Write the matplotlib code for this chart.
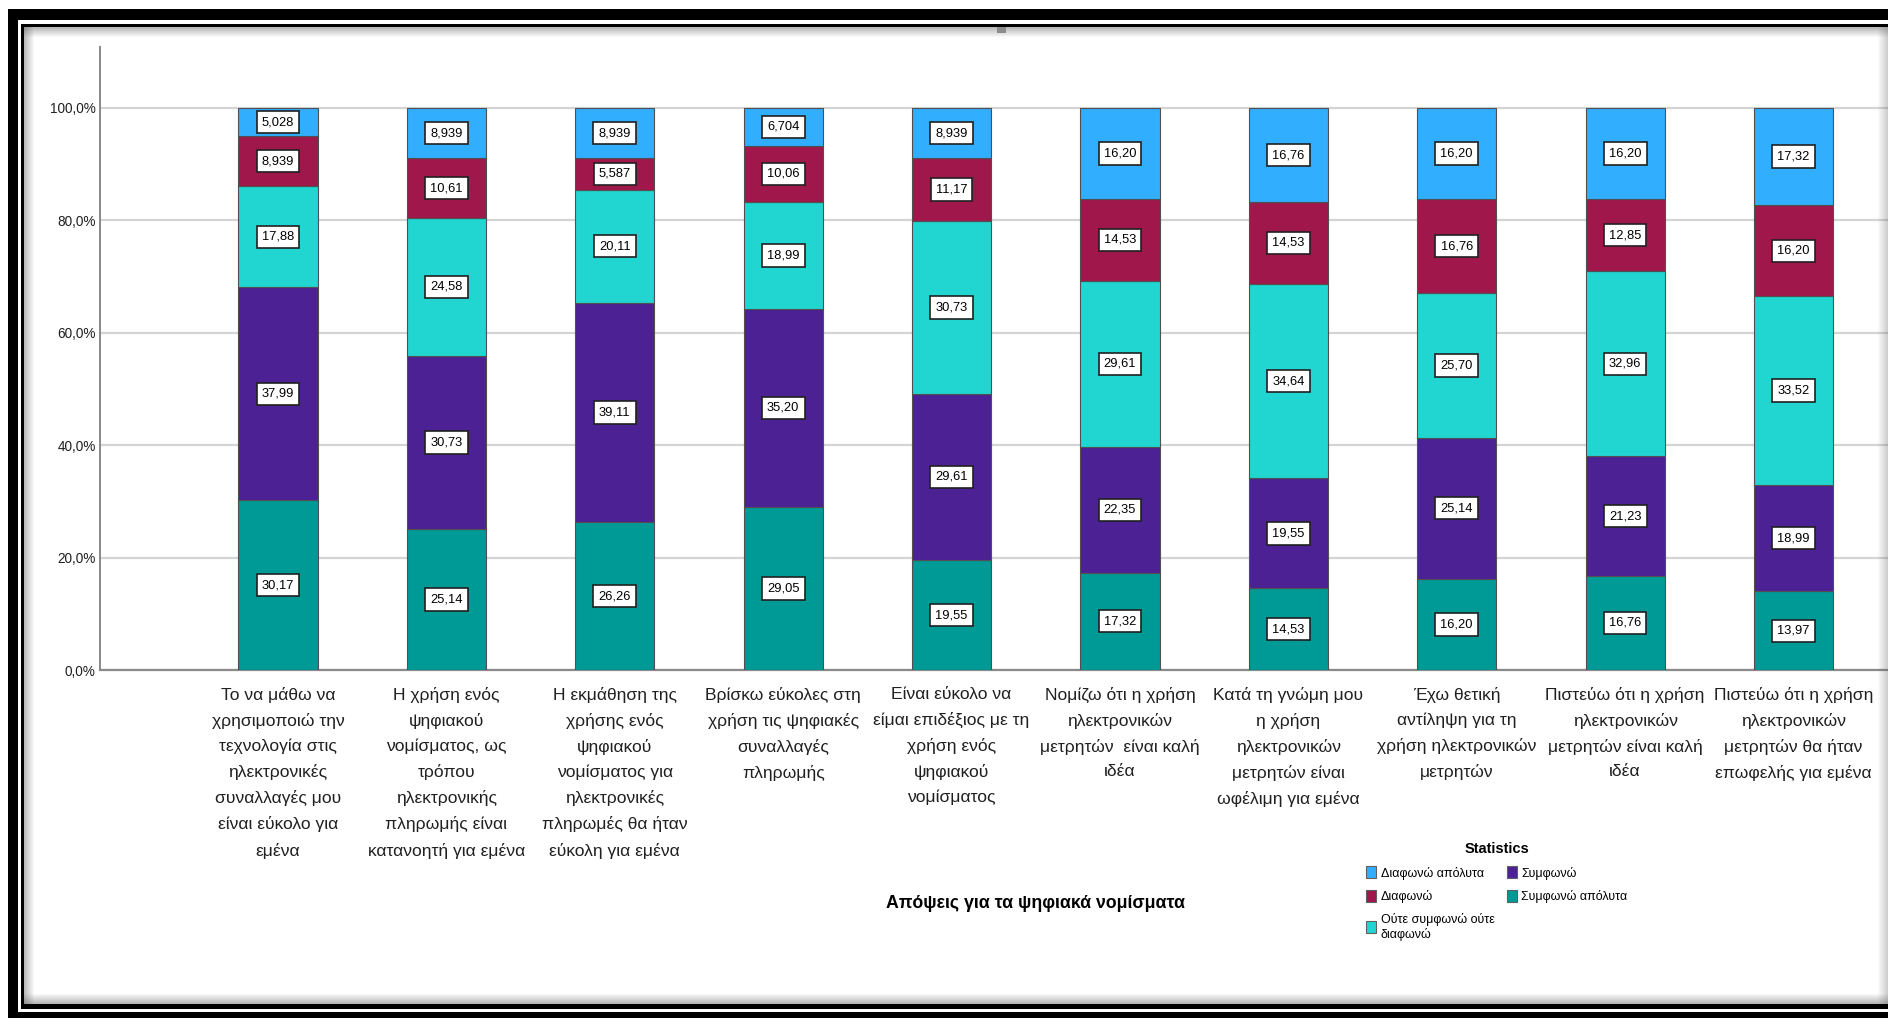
import matplotlib
matplotlib.use("Agg")
import matplotlib.pyplot as plt
from matplotlib.patches import Rectangle, Patch

plt.rcParams["font.family"] = ["Liberation Sans", "DejaVu Sans"]

categories = [
    "Το να μάθω να\nχρησιμοποιώ την\nτεχνολογία στις\nηλεκτρονικές\nσυναλλαγές μου\nείναι εύκολο για\nεμένα",
    "Η χρήση ενός\nψηφιακού\nνομίσματος, ως\nτρόπου\nηλεκτρονικής\nπληρωμής είναι\nκατανοητή για εμένα",
    "Η εκμάθηση της\nχρήσης ενός\nψηφιακού\nνομίσματος για\nηλεκτρονικές\nπληρωμές θα ήταν\nεύκολη για εμένα",
    "Βρίσκω εύκολες στη\nχρήση τις ψηφιακές\nσυναλλαγές\nπληρωμής",
    "Είναι εύκολο να\nείμαι επιδέξιος με τη\nχρήση ενός\nψηφιακού\nνομίσματος",
    "Νομίζω ότι η χρήση\nηλεκτρονικών\nμετρητών  είναι καλή\nιδέα",
    "Κατά τη γνώμη μου\nη χρήση\nηλεκτρονικών\nμετρητών είναι\nωφέλιμη για εμένα",
    "Έχω θετική\nαντίληψη για τη\nχρήση ηλεκτρονικών\nμετρητών",
    "Πιστεύω ότι η χρήση\nηλεκτρονικών\nμετρητών είναι καλή\nιδέα",
    "Πιστεύω ότι η χρήση\nηλεκτρονικών\nμετρητών θα ήταν\nεπωφελής για εμένα",
]

# percentages per response, bottom of the stack first
agree_fully = [30.17, 25.14, 26.26, 29.05, 19.55, 17.32, 14.53, 16.20, 16.76, 13.97]
agree = [37.99, 30.73, 39.11, 35.20, 29.61, 22.35, 19.55, 25.14, 21.23, 18.99]
neutral = [17.88, 24.58, 20.11, 18.99, 30.73, 29.61, 34.64, 25.70, 32.96, 33.52]
disagree = [8.939, 10.61, 5.587, 10.06, 11.17, 14.53, 14.53, 16.76, 12.85, 16.20]
disagree_fully = [5.028, 8.939, 8.939, 6.704, 8.939, 16.20, 16.76, 16.20, 16.20, 17.32]

series = [agree_fully, agree, neutral, disagree, disagree_fully]
series_names = ["Συμφωνώ απόλυτα", "Συμφωνώ", "Ούτε συμφωνώ ούτε\nδιαφωνώ", "Διαφωνώ", "Διαφωνώ απόλυτα"]
colors = ["#009a96", "#4c2194", "#21d5d0", "#a0184b", "#31aefe"]

yticks = [0, 20, 40, 60, 80, 100]
ytick_labels = ["0,0%", "20,0%", "40,0%", "60,0%", "80,0%", "100,0%"]

W, H = 1888, 1018
fig = plt.figure(figsize=(W / 100, H / 100), dpi=100)
fig.patch.set_facecolor("white")

# plot area in pixel terms (right side runs past the edge)
left, right, top, bottom = 100, 1972, 47, 670
ax = fig.add_axes([left / W, 1 - bottom / H, (right - left) / W, (bottom - top) / H])

x = list(range(len(categories)))
base = [0.0] * len(categories)
for vals, col in zip(series, colors):
    ax.bar(x, vals, width=0.47, bottom=base, color=col, edgecolor="#505050", linewidth=0.8, zorder=3)
    for xi, b, v in zip(x, base, vals):
        txt = f"{v:#.4g}".replace(".", ",")
        ax.text(xi, b + v / 2, txt, ha="center", va="center", fontsize=9.3, zorder=5,
                bbox=dict(boxstyle="square,pad=0.4", fc="white", ec="#202020", lw=1.2))
    base = [b + v for b, v in zip(base, vals)]

ax.set_xlim(-1.057, 10.06)
ax.set_ylim(0, 110.85)
ax.set_yticks(yticks)
ax.set_yticklabels(ytick_labels, fontsize=9.8)
ax.set_xticks(x)
ax.set_xticklabels(categories, fontsize=12.6, linespacing=1.78)
ax.tick_params(axis="both", length=0, colors="#202020")
ax.tick_params(axis="y", pad=3)
ax.tick_params(axis="x", pad=12)
ax.yaxis.grid(True, color="#d4d4d4", linewidth=1.6, zorder=0)
ax.set_axisbelow(True)
for s in ["top", "right"]:
    ax.spines[s].set_visible(False)
ax.spines["left"].set_color("#8a8a8a")
ax.spines["left"].set_linewidth(1.4)
ax.spines["bottom"].set_color("#8a8a8a")
ax.spines["bottom"].set_linewidth(1.6)

fig.text(1035 / W, 1 - 903 / H, "Απόψεις για τα ψηφιακά νομίσματα", ha="center", va="center",
         fontsize=12.8, fontweight="bold")

# legend, filled column-wise
order = [4, 3, 2, 1, 0]
handles = [Patch(facecolor=colors[i], edgecolor="#606060", linewidth=0.8) for i in order]
leg = fig.legend(handles, [series_names[i] for i in order], ncol=2, loc="upper left",
                 bbox_to_anchor=(1360 / W, 1 - 836 / H), frameon=False, fontsize=9,
                 title="Statistics", title_fontproperties={"weight": "bold", "size": 10.5},
                 handlelength=0.8, handleheight=1.1, handletextpad=0.35, columnspacing=1.0,
                 labelspacing=0.8, borderpad=0)

# picture frame drawn in pixel coordinates on top
fr = fig.add_axes([0, 0, 1, 1], zorder=10)
fr.set_xlim(0, W)
fr.set_ylim(H, 0)
fr.axis("off")
fr.patch.set_alpha(0)

def rect(x0, y0, x1, y1, color, alpha=1.0):
    fr.add_patch(Rectangle((x0, y0), x1 - x0, y1 - y0, facecolor=color, edgecolor="none", alpha=alpha))

# outer thick band
rect(8, 9, W, 20, "black")
rect(8, 9, 18, 1018, "black")
rect(8, 1012, W, 1018, "black")
# inner thin line
rect(21, 23.5, W, 27, "black")
rect(21, 23.5, 24, 1009, "black")
rect(21, 1004, W, 1009, "black")
# soft shadow inside the inner line
for i in range(10):
    a = 0.45 * (1 - i / 10)
    rect(24, 27 + i, W, 28 + i, "#606060", a)
    rect(24 + i, 27, 25 + i, 1004, "#606060", a)
    rect(24, 1003 - i, W, 1004 - i, "#606060", a)
    rect(W - 1 - i, 27, W - i, 1004, "#606060", a * 0.7)
rect(997, 27, 1006, 33, "#8c8c8c")

fig.savefig("out.png", dpi=100)
